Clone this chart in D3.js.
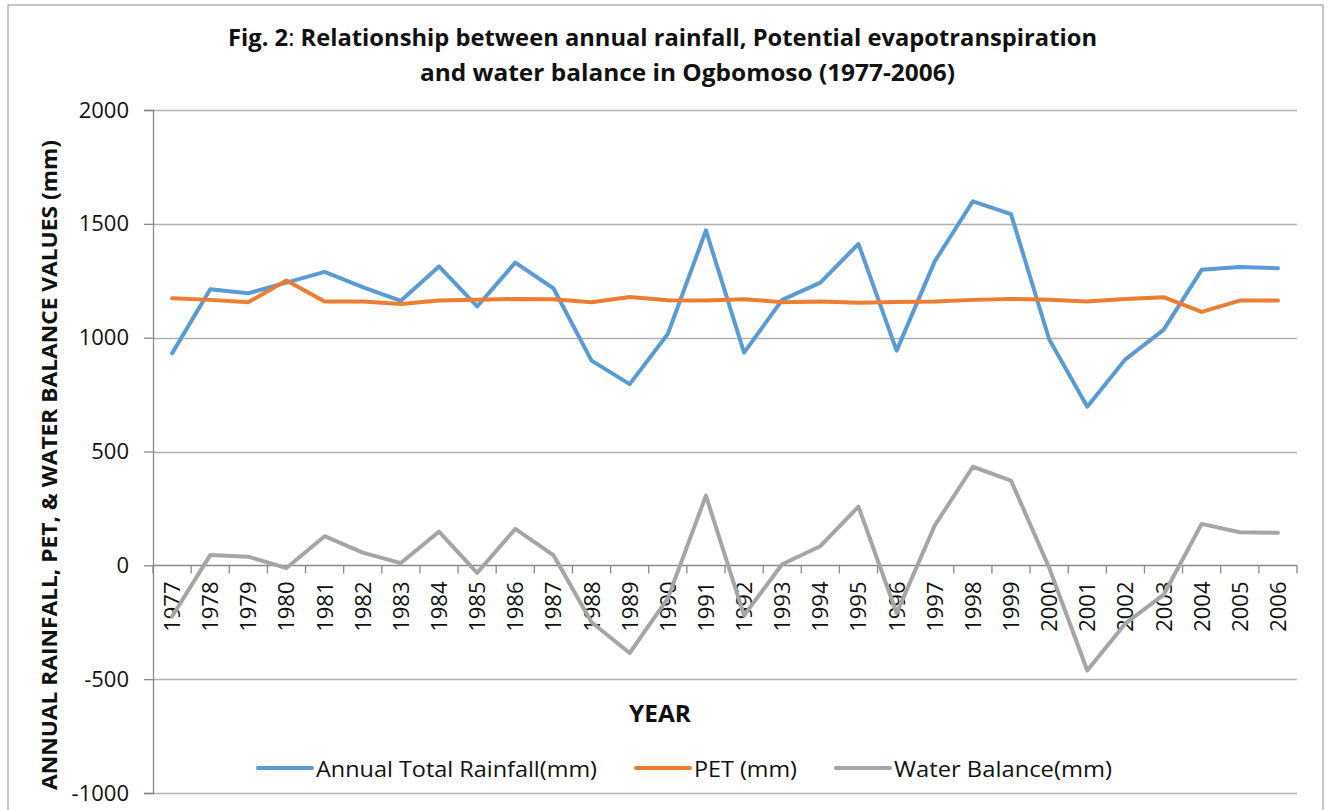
<!DOCTYPE html>
<html>
<head>
<meta charset="utf-8">
<script src="https://cdn.jsdelivr.net/npm/d3@7"></script>
<style>
  html, body { margin: 0; padding: 0; background: #fff; }
  svg { display: block; }
</style>
</head>
<body>
<svg id="chart" width="1328" height="810"></svg>
<script>
const years = ["1977","1978","1979","1980","1981","1982","1983","1984","1985","1986","1987","1988","1989","1990","1991","1992","1993","1994","1995","1996","1997","1998","1999","2000","2001","2002","2003","2004","2005","2006"];
const rainfall = [931,1213,1195,1242,1289,1222,1162,1313,1137,1330,1217,899,796,1016,1471,934,1166,1242,1412,943,1335,1599,1543,993,697,905,1034,1298,1310,1305];
const pet = [1173,1166,1156,1251,1159,1159,1148,1163,1166,1170,1169,1156,1179,1164,1163,1169,1156,1159,1153,1157,1159,1166,1170,1167,1159,1170,1178,1113,1163,1163];
const waterBalance = [-225,45,38,-12,128,56,10,148,-33,160,45,-250,-385,-145,306,-220,5,84,258,-210,175,433,372,-10,-462,-255,-130,182,145,143];
const yTicks = [2000,1500,1000,500,0,-500,-1000];
const seriesNames = ["Annual Total Rainfall(mm)","PET (mm)","Water Balance(mm)"];
const seriesColors = ["#5b9bd5","#ed7d31","#a5a5a5"];
const titleLines = ["Relationship between annual rainfall, Potential evapotranspiration","and water balance in Ogbomoso (1977-2006)"];

const svg = d3.select("#chart");
const plotLeft = 153, plotRight = 1297, plotTop = 110, plotBottom = 793;

// outer border
svg.append("rect").attr("x", 8).attr("y", 5).attr("width", 1315).attr("height", 815)
  .attr("fill", "#fff").attr("stroke", "#a0a0a0").attr("stroke-width", 1.2);

const x = d3.scaleBand().domain(years).range([plotLeft, plotRight]).paddingInner(0).paddingOuter(0);
const y = d3.scaleLinear().domain([-1000, 2000]).range([plotBottom, plotTop]);

// gridlines
svg.append("g").selectAll("line").data(yTicks.filter(d => d !== 0)).join("line")
  .attr("x1", plotLeft).attr("x2", plotRight)
  .attr("y1", d => Math.round(y(d)) + 0.5).attr("y2", d => Math.round(y(d)) + 0.5)
  .attr("stroke", "#b0b0b0").attr("stroke-width", 1.3);

// y axis
const yAxis = d3.axisLeft(y).tickValues(yTicks).tickSize(9).tickPadding(15).tickFormat(d => String(d));
const gy = svg.append("g").attr("transform", `translate(${plotLeft},0)`).call(yAxis);
gy.select(".domain").attr("stroke", "#888").attr("stroke-width", 1.3);
gy.selectAll(".tick line").attr("stroke", "#888").attr("stroke-width", 1.3);
gy.selectAll(".tick text").attr("font-family", "'Open Sans', sans-serif").attr("font-size", 22).attr("fill", "#111");

// x axis at zero
const y0 = Math.round(y(0)) + 0.5;
const gx = svg.append("g");
gx.append("line").attr("x1", plotLeft).attr("x2", plotRight).attr("y1", y0).attr("y2", y0)
  .attr("stroke", "#888").attr("stroke-width", 1.3);
const boundaries = years.map(d => x(d)).concat([x(years[years.length - 1]) + x.bandwidth()]);
gx.selectAll("line.tk").data(boundaries).join("line").attr("class", "tk")
  .attr("x1", d => d).attr("x2", d => d).attr("y1", y0).attr("y2", y0 + 8)
  .attr("stroke", "#888").attr("stroke-width", 1.3);
gx.selectAll("text").data(years).join("text")
  .attr("transform", d => `translate(${x(d) + x.bandwidth() / 2 + 8},${y0 + 16}) rotate(-90)`)
  .attr("text-anchor", "end")
  .attr("font-family", "'Open Sans', sans-serif").attr("font-size", 22).attr("fill", "#111")
  .text(d => d);

// lines
const line = d3.line().x((d, i) => x(years[i]) + x.bandwidth() / 2).y(d => y(d));
[rainfall, pet, waterBalance].forEach((s, i) => {
  svg.append("path").datum(s).attr("d", line).attr("fill", "none")
    .attr("stroke", seriesColors[i]).attr("stroke-width", 4)
    .attr("stroke-linejoin", "round").attr("stroke-linecap", "round");
});

// title
const t1 = svg.append("text").attr("x", 228).attr("y", 46)
  .attr("font-family", "'Open Sans', sans-serif").attr("font-size", 24).attr("font-weight", "bold").attr("fill", "#111")
  .attr("textLength", 869).attr("lengthAdjust", "spacingAndGlyphs");
t1.append("tspan").text("Fig. 2");
t1.append("tspan").attr("font-weight", "normal").text(": ");
t1.append("tspan").text(titleLines[0]);
svg.append("text").attr("x", 420).attr("y", 81)
  .attr("font-family", "'Open Sans', sans-serif").attr("font-size", 24).attr("font-weight", "bold").attr("fill", "#111")
  .attr("textLength", 535).attr("lengthAdjust", "spacingAndGlyphs")
  .text(titleLines[1]);

// y title
svg.append("text").attr("transform", "translate(57,790) rotate(-90)")
  .attr("font-family", "'Open Sans', sans-serif").attr("font-size", 22).attr("font-weight", "bold").attr("fill", "#111")
  .attr("textLength", 650).attr("lengthAdjust", "spacingAndGlyphs")
  .text("ANNUAL RAINFALL, PET, & WATER BALANCE VALUES (mm)");

// x title
svg.append("text").attr("x", 660).attr("y", 722).attr("text-anchor", "middle")
  .attr("font-family", "'Open Sans', sans-serif").attr("font-size", 23).attr("font-weight", "bold").attr("fill", "#111")
  .attr("textLength", 62).attr("lengthAdjust", "spacingAndGlyphs")
  .text("YEAR");

// legend
const legendX = [258, 636, 836];
const legendW = [281, 103, 218];
const lg = svg.append("g");
seriesNames.forEach((n, i) => {
  lg.append("line").attr("x1", legendX[i]).attr("x2", legendX[i] + 54).attr("y1", 768).attr("y2", 768)
    .attr("stroke", seriesColors[i]).attr("stroke-width", 4).attr("stroke-linecap", "round");
  lg.append("text").attr("x", legendX[i] + 58).attr("y", 777)
    .attr("font-family", "'Open Sans', sans-serif").attr("font-size", 22).attr("fill", "#111")
    .attr("textLength", legendW[i]).attr("lengthAdjust", "spacingAndGlyphs")
    .text(n);
});
</script>
</body>
</html>
